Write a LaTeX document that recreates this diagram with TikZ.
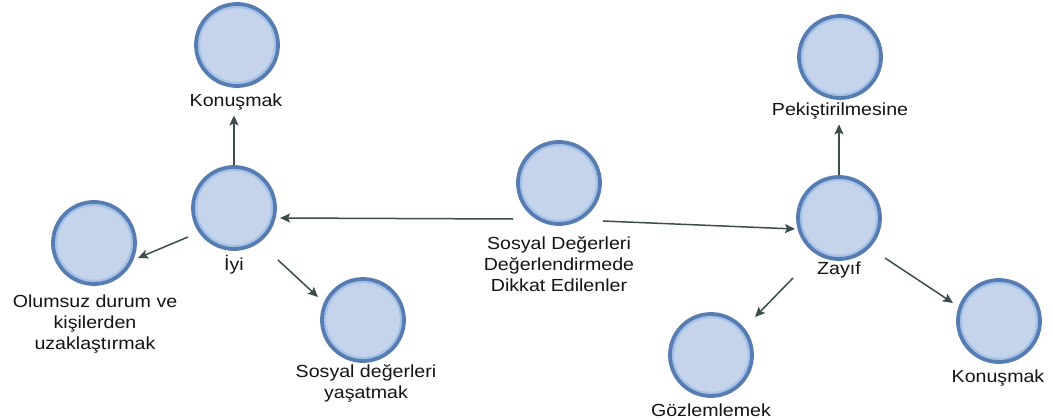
\documentclass[tikz,border=0pt]{standalone}
\usepackage{fontspec}
\setmainfont{Liberation Sans}[FakeStretch=1.12]
\usetikzlibrary{arrows.meta,calc}
\definecolor{ringc}{RGB}{86,124,178}
\definecolor{innerc}{RGB}{166,194,232}
\definecolor{fillc}{RGB}{197,212,234}
\definecolor{arrc}{RGB}{60,76,76}
\definecolor{txtc}{RGB}{20,20,20}
\tikzset{
  bub/.style={circle, minimum size=82pt, inner sep=0pt, draw=ringc, line width=3.8pt, fill=fillc,
    path picture={\draw[innerc, line width=2.4pt] (path picture bounding box.center) circle (38pt);}},
  lab/.style={inner sep=0pt, align=center, text=txtc, font=\fontsize{17.5}{21}\selectfont},
  arr/.style={draw=arrc, line width=1.5pt, -{Stealth[length=10pt,width=9pt,inset=2pt]}}
}
\begin{document}
\begin{tikzpicture}[x=1pt,y=-1pt]
\useasboundingbox[fill=white] (0,0) rectangle (1053,420);
% bubbles
\node[bub] (k1)   at (237,45)  {};
\node[bub] (iyi)  at (234,208) {};
\node[bub] (olum) at (94,243)  {};
\node[bub] (sos)  at (363,320) {};
\node[bub] (c)    at (559,183) {};
\node[bub] (zay)  at (839,218) {};
\node[bub] (pek)  at (840,57)  {};
\node[bub] (goz)  at (711,355) {};
\node[bub] (k2)   at (999,321) {};
% labels
\node[lab] (k1lab)   at (236,102) {Konuşmak};
\node[lab] (iyilab)  at (234,265) {İyi};
\node[lab] (olumlab) at (95,324)  {Olumsuz durum ve\\kişilerden\\uzaklaştırmak};
\node[lab] (soslab)  at (366,383) {Sosyal değerleri\\yaşatmak};
\node[lab] (clab)    at (559,264) {Sosyal Değerleri\\Değerlendirmede\\Dikkat Edilenler};
\node[lab] (zaylab)  at (839,270) {Zayıf};
\node[lab] (peklab)  at (840,111) {Pekiştirilmesine};
\node[lab] (gozlab)  at (711,410) {Gözlemlemek};
\node[lab] (k2lab)   at (998,378) {Konuşmak};
% connectors
\draw[arr] ($(c)+(-46,36)$) -- ($(iyi)+(46,10)$);
\draw[arr] ($(c)+(44,38)$) -- ($(zay)+(-44,11)$);
\draw[arr] (iyi.north) -- ($(iyi.north |- k1lab.south)+(0,5)$);
\draw[arr] (zay.north) -- ($(zay.north |- peklab.south)+(0,5)$);
\draw[arr] ($(iyi)+(-46,29)$) -- ($(olum)+(44,15)$);
\draw[arr] ($(iyi)+(44,52)$) -- ($(sos)+(-45,-23)$);
\draw[arr] ($(zay)+(-46,60)$) -- ($(goz)+(44,-38)$);
\draw[arr] ($(zay)+(46,40)$) -- ($(k2)+(-46,-18)$);
\end{tikzpicture}
\end{document}
